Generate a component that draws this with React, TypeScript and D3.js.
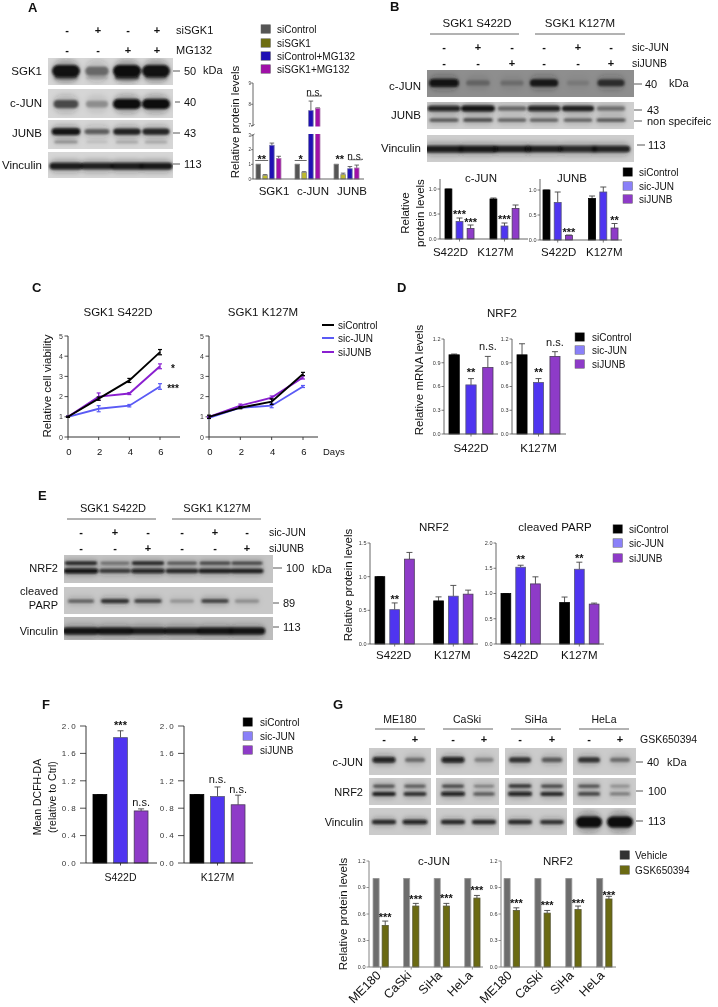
import React from 'react';
import * as d3 from 'd3';

// ---------- data ----------
const treat3 = ['siControl', 'sic-JUN', 'siJUNB'];
const treatA = ['siControl', 'siSGK1', 'siControl+MG132', 'siSGK1+MG132'];
const treatG = ['Vehicle', 'GSK650394'];
const mutants = ['S422D', 'K127M'];
const targetsA = ['SGK1', 'c-JUN', 'JUNB'];
const cells = ['ME180', 'CaSki', 'SiHa', 'HeLa'];
const days = [0, 2, 4, 6];

const aVals = [[1, 0.25, 2.3, 1.4], [1, 0.45, 7.7, 7.8], [1, 0.3, 0.7, 0.75]];
const aErrs = [[1, 0.3, 2.45, 1.55], [1, 0.5, 8.15, 7.83], [1, 0.4, 0.85, 0.95]];
const bJunVals = [[1, 0.35, 0.21], [0.8, 0.26, 0.61]];
const bJunErrs = [[1, 0.42, 0.28], [0.82, 0.32, 0.68]];
const bJunbVals = [[1, 0.75, 0.09], [0.83, 0.96, 0.24]];
const bJunbErrs = [[1, 0.96, 0.1], [0.88, 1.06, 0.33]];
const cLeft = { control: [1, 1.9, 2.8, 4.2], jun: [1, 1.4, 1.55, 2.5], junb: [1, 2.0, 2.15, 3.5] };
const cLeftErr = { control: [0.03, 0.08, 0.1, 0.13], jun: [0.03, 0.15, 0.06, 0.14], junb: [0.03, 0.18, 0.05, 0.12] };
const cRight = { control: [1, 1.45, 1.75, 3.12], jun: [0.95, 1.45, 1.55, 2.5], junb: [1, 1.55, 1.95, 2.95] };
const cRightErr = { control: [0.08, 0.05, 0.14, 0.08], jun: [0.04, 0.04, 0.1, 0.05], junb: [0.04, 0.08, 0.08, 0.08] };
const dVals = [[1, 0.62, 0.84]];
const dErrs = [[1.01, 0.7, 0.98]];
const dVals2 = [[1, 0.65, 0.98]];
const dErrs2 = [[1.14, 0.7, 1.04]];
const eNrf2Vals = [[1, 0.51, 1.26], [0.64, 0.71, 0.74]];
const eNrf2Errs = [[1, 0.61, 1.36], [0.7, 0.87, 0.8]];
const eParpVals = [[1, 1.52, 1.19], [0.82, 1.48, 0.79]];
const eParpErrs = [[1, 1.56, 1.33], [0.93, 1.62, 0.81]];
const fVals = [[1, 1.83, 0.76]];
const fErrs = [[1, 1.93, 0.79]];
const fVals2 = [[1, 0.97, 0.85]];
const fErrs2 = [[1, 1.11, 0.99]];
const gJunVals = [[1, 0.47], [1, 0.69], [1, 0.69], [1, 0.78]];
const gJunErrs = [[1, 0.52], [1, 0.72], [1, 0.72], [1, 0.81]];
const gNrfVals = [[1, 0.64], [1, 0.61], [1, 0.65], [1, 0.77]];
const gNrfErrs = [[1, 0.67], [1, 0.64], [1, 0.69], [1, 0.8]];

const tick12 = ['0.0', '0.3', '0.6', '0.9', '1.2'];
const tick10 = ['0.0', '0.5', '1.0'];
const tick15 = ['0.0', '0.5', '1.0', '1.5'];
const tick20 = ['0.0', '0.5', '1.0', '1.5', '2.0'];
const tickF = ['0.0', '0.4', '0.8', '1.2', '1.6', '2.0'];
const tickA = ['0', '1', '2', '3', '7', '8', '9'];
const tickC = ['0', '1', '2', '3', '4', '5'];

// blot band intensities, one value per lane
const blotA = {
  sgk: [0.97, 0.45, 1, 0.97], sgkLow: [0.4, 0.15, 0.55, 0.3],
  jun: [0.6, 0.28, 1, 1],
  junb: [0.95, 0.5, 0.8, 0.78], junbLow: [0.3, 0.1, 0.2, 0.2],
  vin: [0.9, 0.88, 0.9, 0.92],
};
const blotB = {
  jun: [0.95, 0.25, 0.2, 0.8, 0.12, 0.65],
  junb: [0.85, 0.95, 0.45, 0.85, 0.8, 0.4], junbLow: [0.5, 0.55, 0.45, 0.45, 0.45, 0.5],
  vin: [0.9, 0.92, 0.8, 0.8, 0.82, 0.85],
};
const blotE = {
  nrfTop: [0.75, 0.4, 0.75, 0.5, 0.6, 0.6], nrfLow: [0.95, 0.65, 0.85, 0.75, 0.8, 0.8],
  parp: [0.45, 0.7, 0.6, 0.22, 0.6, 0.25],
  vin: [0.95, 0.95, 0.9, 0.9, 0.95, 0.95],
};
const blotG = {
  jun: [0.85, 0.4, 0.85, 0.3, 0.7, 0.5, 0.7, 0.4],
  nrfTop: [0.55, 0.5, 0.6, 0.35, 0.7, 0.6, 0.55, 0.25],
  nrfLow: [0.8, 0.7, 0.85, 0.5, 0.85, 0.75, 0.6, 0.35],
  vin: [0.75, 0.85, 0.75, 0.75, 0.75, 0.7, 1, 1],
};
const signsJun = ['-', '+', '-', '-', '+', '-'];
const signsJunb = ['-', '-', '+', '-', '-', '+'];

// ---------- palette ----------
const colors3 = ['#000000', '#4f35f0', '#8e3bc8'];
const strokes3 = ['#000000', '#555577', '#4a3a5a'];
const swatch3 = ['#000000', '#8a80f8', '#8e3bc8'];
const colorsA = ['#555555', '#bdb92c', '#1f10b4', '#a010a8'];
const swatchA = ['#555555', '#6e6e10', '#1f10b4', '#a010a8'];
const colorsG = ['#6d6d6d', '#6b6a12'];
const strokesG = ['#a5a5a5', '#555533'];
const swatchG = ['#333333', '#6b6a12'];
const lineColors = ['#000000', '#5a5af5', '#8a1fd0'];
const FONT = '"Liberation Sans", Arial, sans-serif';
const INK = '#111';

// ---------- helpers ----------
function T({ x, y, s = 10, a = 'start', rot, fw, fill = INK, ls, children }: any) {
  return (
    <text x={x} y={y + s * 0.36} fontSize={s} textAnchor={a} fontWeight={fw} fill={fill}
      letterSpacing={ls} fontFamily={FONT}
      transform={rot !== undefined ? `rotate(${rot} ${x} ${y})` : undefined}>{children}</text>
  );
}

function Legend({ x, ys, names, cols, tx, boxW = 9.5, boxH = 8.5 }: any) {
  return (
    <g>
      {names.map((n: string, i: number) => (
        <g key={n}>
          <rect x={x} y={ys[i] - boxH / 2} width={boxW} height={boxH} fill={cols[i]} stroke="#666" strokeWidth={0.5} />
          <T x={tx} y={ys[i]}>{n}</T>
        </g>
      ))}
    </g>
  );
}

function Blot({ x, y, w, h, bg = '#d6d6d6', lanes, laneW, bands }: any) {
  const id = `clip-${x}-${y}`;
  return (
    <g>
      <clipPath id={id}><rect x={x} y={y} width={w} height={h} /></clipPath>
      <rect x={x} y={y} width={w} height={h} fill={bg} />
      <g clipPath={`url(#${id})`}>
        <g filter="url(#haze)">
          {bands.map((b: any, bi: number) => b.v.map((v: number, i: number) => {
            const bw = laneW * (0.8 + 0.2 * v);
            const bh = b.h * 1.9;
            return (
              <rect key={`${bi}-${i}`} x={lanes[i] - bw / 2} y={y + h * b.at - bh / 2} width={bw} height={bh}
                rx={bh / 2} fill="#222" opacity={v * 0.3} />
            );
          }))}
        </g>
        <g filter="url(#blur)">
          {bands.map((b: any, bi: number) => b.v.map((v: number, i: number) => {
            const bw = laneW * (0.72 + 0.28 * v);
            const bh = b.h * (0.55 + 0.45 * v);
            return (
              <rect key={`${bi}-${i}`} x={lanes[i] - bw / 2} y={y + h * b.at - bh / 2} width={bw} height={bh}
                rx={bh / 2} fill="#080808" opacity={v} />
            );
          }))}
        </g>
      </g>
    </g>
  );
}

function Marker({ x1, x2, y, label, lx, s = 11 }: any) {
  return (
    <g>
      <line x1={x1} x2={x2} y1={y} y2={y} stroke="#444" strokeWidth={0.9} />
      <T x={lx} y={y} s={s}>{label}</T>
    </g>
  );
}

function Signs({ xs, y, vals }: any) {
  return (
    <g>
      {vals.map((v: string, i: number) => (
        <T key={i} x={xs[i]} y={y} s={11} a="middle" fw="bold">{v}</T>
      ))}
    </g>
  );
}

function BarChart({
  axisX, xEnd, yBase, yTop, domain, ticks, range, padG, padB, groups, vals, errs, fills, strokes,
  annos = [], labelY, labelS = 11.5, labelDx = 0, rotate = false, tickS = 5.5, tickGap = 3, tickLen = 2.5,
  axisColor = '#555', tickLs, rangeY, breakAt, errW = 0.9, showXTicks = true, nsS = 11,
}: any) {
  const y = d3.scaleLinear().domain(domain).range(rangeY || [yBase, yTop]);
  const gx = d3.scaleBand().domain(groups).range(range).paddingInner(padG).paddingOuter(0);
  const n = vals[0].length;
  const inner = d3.scaleBand().domain(d3.range(n).map(String)).range([0, gx.bandwidth()]).paddingInner(padB).paddingOuter(0);
  const bw = inner.bandwidth();
  const barCentre = (gi: number, s: number) => (gx(groups[gi]) as number) + (inner('0') as number) + s * inner.step() + bw / 2;
  return (
    <g>
      {vals.map((row: number[], gi: number) => row.map((v: number, si: number) => {
        const cx = barCentre(gi, si);
        const capW = Math.min(bw * 0.5, 3);
        return (
          <g key={`${gi}-${si}`}>
            <line x1={cx} x2={cx} y1={y(v)} y2={y(errs[gi][si])} stroke="#444" strokeWidth={errW} />
            <line x1={cx - capW} x2={cx + capW} y1={y(errs[gi][si])} y2={y(errs[gi][si])} stroke="#444" strokeWidth={errW} />
            <rect x={cx - bw / 2} y={y(v)} width={bw} height={yBase - y(v)} fill={fills[si]}
              stroke={strokes ? strokes[si] : 'none'} strokeWidth={strokes ? 0.8 : 0} />
          </g>
        );
      }))}
      {breakAt && <rect x={axisX + 1} y={breakAt[0] + 1} width={xEnd - axisX - 1} height={breakAt[1] - breakAt[0] - 2} fill="#fff" />}
      {breakAt ? (
        <g stroke={axisColor} strokeWidth={0.9}>
          <line x1={axisX} x2={axisX} y1={yBase} y2={breakAt[1]} />
          <line x1={axisX} x2={axisX} y1={breakAt[0]} y2={yTop} />
          <line x1={axisX - 1.5} x2={axisX + 1.5} y1={breakAt[1] + 1} y2={breakAt[1] - 1} />
          <line x1={axisX - 1.5} x2={axisX + 1.5} y1={breakAt[0] + 1} y2={breakAt[0] - 1} />
        </g>
      ) : (
        <line x1={axisX} x2={axisX} y1={yBase} y2={yTop} stroke={axisColor} strokeWidth={0.9} />
      )}
      <line x1={axisX} x2={xEnd} y1={yBase} y2={yBase} stroke={axisColor} strokeWidth={0.9} />
      {ticks.map((t: string) => (
        <g key={t}>
          <line x1={axisX - tickLen} x2={axisX} y1={y(+t)} y2={y(+t)} stroke={axisColor} strokeWidth={0.8} />
          <T x={axisX - tickLen - tickGap + 2} y={y(+t)} s={tickS} a="end" fill="#333" ls={tickLs}>{t}</T>
        </g>
      ))}
      {groups.map((g: string, gi: number) => {
        const cx = (gx(g) as number) + gx.bandwidth() / 2;
        return (
          <g key={g}>
            {showXTicks && <line x1={cx} x2={cx} y1={yBase} y2={yBase + 2.5} stroke={axisColor} strokeWidth={0.8} />}
            {rotate ? (
              <text x={cx + labelDx} y={labelY} fontSize={12.5} textAnchor="end" fill={INK} fontFamily={FONT}
                transform={`rotate(-45 ${cx + labelDx} ${labelY})`}>{g}</text>
            ) : (
              <T x={cx + labelDx} y={labelY} s={labelS} a="middle">{g}</T>
            )}
          </g>
        );
      })}
      {annos.map((an: any, i: number) => {
        const cx = barCentre(an.g, an.s);
        const isStar = an.t.includes('*');
        const yy = y(an.v);
        return (
          <g key={i}>
            {isStar
              ? <text x={cx} y={yy + 6} fontSize={11} fontWeight="bold" textAnchor="middle" fill={INK} fontFamily={FONT}>{an.t}</text>
              : <T x={cx} y={yy} s={nsS} a="middle">{an.t}</T>}
            {an.line && <line x1={cx - an.line} x2={cx + an.line} y1={yy + 3.5} y2={yy + 3.5} stroke="#444" strokeWidth={0.8} />}
          </g>
        );
      })}
    </g>
  );
}

function LineChart({ axisX, xZero, xSix, xEnd, yBase, yTop, data, errs, labelY }: any) {
  const x = d3.scaleLinear().domain([0, 6]).range([xZero, xSix]);
  const y = d3.scaleLinear().domain([0, 5]).range([yBase, yTop]);
  const line = d3.line<number>().x((_, i) => x(days[i])).y((d) => y(d));
  const order = ['jun', 'junb', 'control'];
  const colorOf: any = { control: lineColors[0], jun: lineColors[1], junb: lineColors[2] };
  return (
    <g>
      <line x1={axisX} x2={axisX} y1={yBase} y2={yTop} stroke="#333" strokeWidth={1} />
      <line x1={axisX} x2={xEnd} y1={yBase} y2={yBase} stroke="#333" strokeWidth={1} />
      {tickC.map((t) => (
        <g key={t}>
          <line x1={axisX - 3.5} x2={axisX} y1={y(+t)} y2={y(+t)} stroke="#333" strokeWidth={0.9} />
          <T x={axisX - 5} y={y(+t)} s={7} a="end" fill="#333">{t}</T>
        </g>
      ))}
      {days.map((d) => (
        <g key={d}>
          <line x1={x(d)} x2={x(d)} y1={yBase} y2={yBase + 3} stroke="#333" strokeWidth={0.9} />
          <T x={x(d) + 1} y={labelY} s={9.5} a="middle">{String(d)}</T>
        </g>
      ))}
      {order.map((k) => (
        <g key={k}>
          <path d={line(data[k]) as string} fill="none" stroke={colorOf[k]} strokeWidth={1.9} />
          {data[k].map((v: number, i: number) => (
            <g key={i} stroke={colorOf[k]} strokeWidth={1.2}>
              <line x1={x(days[i])} x2={x(days[i])} y1={y(v - errs[k][i])} y2={y(v + errs[k][i])} />
              <line x1={x(days[i]) - 2} x2={x(days[i]) + 2} y1={y(v - errs[k][i])} y2={y(v - errs[k][i])} />
              <line x1={x(days[i]) - 2} x2={x(days[i]) + 2} y1={y(v + errs[k][i])} y2={y(v + errs[k][i])} />
            </g>
          ))}
        </g>
      ))}
    </g>
  );
}

const lanesA = [66, 97, 127, 156];
const lanesB = [444, 478, 512, 544, 578, 611];
const lanesE = [81, 115, 148, 182, 215, 247];
const lanesG = [384, 415, 453, 484, 520, 552, 589, 620];
const blotsG = [[369, 62], [436, 63], [505, 62], [573, 63]];
const gTitles = [400, 467, 536, 604];
const gLines = [[375, 425], [443, 493], [511, 561], [579, 629]];

export default function App() {
  return (
    <svg width={718} height={1007} style={{ position: 'absolute', left: 0, top: 0, background: '#fff', filter: 'blur(0.35px)' }}
      fontFamily={FONT}>
      <defs>
        <filter id="blur" x="-10%" y="-40%" width="120%" height="180%">
          <feGaussianBlur stdDeviation="1.3" />
        </filter>
        <filter id="haze" x="-10%" y="-60%" width="120%" height="220%">
          <feGaussianBlur stdDeviation="2.6" />
        </filter>
      </defs>

      {/* ---------- A ---------- */}
      <T x={28} y={7} s={13} fw="bold">A</T>
      {lanesA.map((x, i) => <T key={i} x={x + 1} y={30} s={11} a="middle" fw="bold">{['-', '+', '-', '+'][i]}</T>)}
      {lanesA.map((x, i) => <T key={i} x={x + 1} y={50} s={11} a="middle" fw="bold">{['-', '-', '+', '+'][i]}</T>)}
      <T x={176} y={30} s={11}>siSGK1</T>
      <T x={176} y={50} s={11}>MG132</T>
      <Blot x={48} y={58} w={125} h={27} lanes={lanesA} laneW={28} bands={[{ at: 0.48, h: 12, v: blotA.sgk }, { at: 0.72, h: 5, v: blotA.sgkLow }]} />
      <Blot x={48} y={89} w={125} h={29} lanes={lanesA} laneW={28} bands={[{ at: 0.52, h: 10, v: blotA.jun }]} />
      <Blot x={48} y={120} w={125} h={29} lanes={lanesA} laneW={29} bands={[{ at: 0.4, h: 7, v: blotA.junb }, { at: 0.76, h: 3.5, v: blotA.junbLow }]} />
      <Blot x={48} y={152} w={125} h={26} lanes={lanesA} laneW={34} bands={[{ at: 0.54, h: 7, v: blotA.vin }]} />
      <T x={42} y={71} s={11.5} a="end">SGK1</T>
      <T x={42} y={103} s={11.5} a="end">c-JUN</T>
      <T x={42} y={133} s={11.5} a="end">JUNB</T>
      <T x={42} y={165} s={11.5} a="end">Vinculin</T>
      <Marker x1={173} x2={180} y={71} lx={184} label="50" />
      <T x={203} y={70} s={11}>kDa</T>
      <Marker x1={175} x2={180} y={102} lx={184} label="40" />
      <Marker x1={173} x2={180} y={133} lx={184} label="43" />
      <Marker x1={173} x2={180} y={164} lx={184} label="113" />
      <Legend x={261} ys={[29, 43, 56, 69]} names={treatA} cols={swatchA} tx={277} />
      <T x={235} y={122} s={11.5} a="middle" rot={-90}>Relative protein levels</T>
      <BarChart axisX={253} xEnd={364} yBase={179} yTop={83} rangeY={[179, 135, 125.5, 83]} domain={[0, 3, 7, 9]}
        ticks={tickA} range={[256, 359]} padG={0.36} padB={0.33} groups={targetsA} vals={aVals} errs={aErrs}
        fills={colorsA} strokes={['#888', '#888', '#7777aa', '#aa77aa']} labelY={191} labelS={11.5} labelDx={5.5}
        tickS={4.5} tickGap={2} tickLen={2} breakAt={[125.5, 135]} errW={0.8} showXTicks={false} nsS={10}
        annos={[
          { g: 0, s: 0.5, v: 1.5, t: '**', line: 6.5 },
          { g: 1, s: 0.5, v: 1.5, t: '*', line: 6 },
          { g: 1, s: 2.5, v: 8.55, t: 'n.s.', line: 7.5 },
          { g: 2, s: 0.5, v: 1.5, t: '**' },
          { g: 2, s: 2.8, v: 1.55, t: 'n.s.', line: 6.5 },
        ]} />

      {/* ---------- B ---------- */}
      <T x={390} y={6} s={13} fw="bold">B</T>
      <T x={477} y={23} s={11.5} a="middle">SGK1 S422D</T>
      <T x={580} y={23} s={11.5} a="middle">SGK1 K127M</T>
      <line x1={430} x2={519} y1={34} y2={34} stroke="#555" strokeWidth={0.9} />
      <line x1={535} x2={625} y1={34} y2={34} stroke="#555" strokeWidth={0.9} />
      <Signs xs={lanesB} y={47} vals={signsJun} />
      <Signs xs={lanesB} y={63} vals={signsJunb} />
      <T x={632} y={47} s={10.5}>sic-JUN</T>
      <T x={632} y={63} s={10.5}>siJUNB</T>
      <Blot x={427} y={70} w={207} h={27} bg="#8e8e8e" lanes={lanesB} laneW={30} bands={[{ at: 0.48, h: 8, v: blotB.jun }]} />
      <Blot x={427} y={102} w={207} h={27} bg="#cfcfcf" lanes={lanesB} laneW={34} bands={[{ at: 0.24, h: 6, v: blotB.junb }, { at: 0.67, h: 5, v: blotB.junbLow }]} />
      <Blot x={427} y={135} w={207} h={27} bg="#cdcdcd" lanes={lanesB} laneW={40} bands={[{ at: 0.52, h: 7, v: blotB.vin }]} />
      <T x={421} y={86} s={11.5} a="end">c-JUN</T>
      <T x={421} y={115} s={11.5} a="end">JUNB</T>
      <T x={421} y={148} s={11.5} a="end">Vinculin</T>
      <Marker x1={634} x2={642} y={84} lx={645} label="40" />
      <T x={669} y={83} s={11}>kDa</T>
      <Marker x1={634} x2={642} y={110} lx={647} label="43" />
      <Marker x1={634} x2={642} y={121} lx={647} label="non specifeic" />
      <Marker x1={637} x2={645} y={145} lx={648} label="113" />
      <T x={405} y={213} s={11.5} a="middle" rot={-90}>Relative</T>
      <T x={420} y={213} s={11.5} a="middle" rot={-90}>protein levels</T>
      <T x={481} y={178} s={11.5} a="middle">c-JUN</T>
      <T x={572} y={178} s={11.5} a="middle">JUNB</T>
      <BarChart axisX={440} xEnd={528} yBase={239} yTop={179} domain={[0, 1.2]} ticks={tick10} range={[445, 519]}
        padG={0.355} padB={0.38} groups={mutants} vals={bJunVals} errs={bJunErrs} fills={colors3} strokes={strokes3}
        labelY={252} labelDx={-9}
        annos={[{ g: 0, s: 1, v: 0.54, t: '***' }, { g: 0, s: 2, v: 0.38, t: '***' }, { g: 1, s: 1, v: 0.44, t: '***' }]} />
      <BarChart axisX={540} xEnd={622} yBase={240} yTop={179} domain={[0, 1.22]} ticks={tick10} range={[543, 618]}
        padG={0.355} padB={0.38} groups={mutants} vals={bJunbVals} errs={bJunbErrs} fills={colors3} strokes={strokes3}
        labelY={252} labelDx={1}
        annos={[{ g: 0, s: 2, v: 0.2, t: '***' }, { g: 1, s: 2, v: 0.44, t: '**' }]} />
      <Legend x={623} ys={[172, 186, 199]} names={treat3} cols={swatch3} tx={639} />

      {/* ---------- C ---------- */}
      <T x={32} y={287} s={13} fw="bold">C</T>
      <T x={118} y={312} s={11.5} a="middle">SGK1 S422D</T>
      <T x={263} y={312} s={11.5} a="middle">SGK1 K127M</T>
      <T x={47} y={386} s={11.5} a="middle" rot={-90}>Relative cell viability</T>
      <LineChart axisX={68} xZero={68} xSix={160} xEnd={180} yBase={437} yTop={336} data={cLeft} errs={cLeftErr} labelY={452} />
      <LineChart axisX={209} xZero={209} xSix={303} xEnd={318} yBase={437} yTop={336} data={cRight} errs={cRightErr} labelY={452} />
      <T x={323} y={452} s={9.5}>Days</T>
      <text x={173} y={372} fontSize={10} fontWeight="bold" textAnchor="middle" fill={INK}>*</text>
      <text x={173} y={392} fontSize={10} fontWeight="bold" textAnchor="middle" fill={INK}>***</text>
      {treat3.map((n, i) => (
        <g key={n}>
          <line x1={322} x2={334} y1={[325, 338, 352][i]} y2={[325, 338, 352][i]} stroke={lineColors[i]} strokeWidth={2} />
          <T x={338} y={[325, 338, 352][i]}>{n}</T>
        </g>
      ))}

      {/* ---------- D ---------- */}
      <T x={397} y={287} s={13} fw="bold">D</T>
      <T x={502} y={313} s={11.5} a="middle">NRF2</T>
      <T x={419} y={380} s={11.5} a="middle" rot={-90}>Relative mRNA levels</T>
      <BarChart axisX={444} xEnd={498} yBase={434} yTop={339} domain={[0, 1.2]} ticks={tick12} range={[449, 493]}
        padG={0} padB={0.39} groups={[mutants[0]]} vals={dVals} errs={dErrs} fills={colors3} strokes={strokes3}
        labelY={448} annos={[{ g: 0, s: 1, v: 0.81, t: '**' }, { g: 0, s: 2, v: 1.11, t: 'n.s.' }]} />
      <BarChart axisX={512} xEnd={566} yBase={434} yTop={339} domain={[0, 1.2]} ticks={tick12} range={[517, 560]}
        padG={0} padB={0.39} groups={[mutants[1]]} vals={dVals2} errs={dErrs2} fills={colors3} strokes={strokes3}
        labelY={448} annos={[{ g: 0, s: 1, v: 0.81, t: '**' }, { g: 0, s: 2, v: 1.16, t: 'n.s.' }]} />
      <Legend x={575} ys={[337, 350, 364]} names={treat3} cols={swatch3} tx={592} />

      {/* ---------- E ---------- */}
      <T x={38} y={495} s={13} fw="bold">E</T>
      <T x={113} y={508} s={11} a="middle">SGK1 S422D</T>
      <T x={217} y={508} s={11} a="middle">SGK1 K127M</T>
      <line x1={67} x2={156} y1={519} y2={519} stroke="#555" strokeWidth={0.9} />
      <line x1={172} x2={261} y1={519} y2={519} stroke="#555" strokeWidth={0.9} />
      <Signs xs={lanesE} y={532} vals={signsJun} />
      <Signs xs={lanesE} y={548} vals={signsJunb} />
      <T x={269} y={532} s={10.5}>sic-JUN</T>
      <T x={269} y={548} s={10.5}>siJUNB</T>
      <Blot x={64} y={555} w={209} h={28} bg="#c4c4c4" lanes={lanesE} laneW={35} bands={[{ at: 0.29, h: 4, v: blotE.nrfTop }, { at: 0.57, h: 5, v: blotE.nrfLow }]} />
      <Blot x={64} y={587} w={209} h={27} bg="#c8c8c8" lanes={lanesE} laneW={31} bands={[{ at: 0.52, h: 5, v: blotE.parp }]} />
      <Blot x={64} y={617} w={209} h={23} bg="#bcbcbc" lanes={lanesE} laneW={37} bands={[{ at: 0.61, h: 7, v: blotE.vin }]} />
      <T x={58} y={568} s={11} a="end">NRF2</T>
      <T x={58} y={591} s={11} a="end">cleaved</T>
      <T x={58} y={605} s={11} a="end">PARP</T>
      <T x={58} y={631} s={11} a="end">Vinculin</T>
      <Marker x1={273} x2={282} y={568} lx={286} label="100" />
      <T x={312} y={569} s={11}>kDa</T>
      <Marker x1={273} x2={279} y={603} lx={283} label="89" />
      <Marker x1={273} x2={279} y={627} lx={283} label="113" />
      <T x={348} y={585} s={11.5} a="middle" rot={-90}>Relative protein levels</T>
      <T x={434} y={527} s={11.5} a="middle">NRF2</T>
      <T x={555} y={527} s={11.5} a="middle">cleaved PARP</T>
      <BarChart axisX={370} xEnd={478} yBase={644} yTop={543} domain={[0, 1.5]} ticks={tick15} range={[375, 473]}
        padG={0.33} padB={0.34} groups={mutants} vals={eNrf2Vals} errs={eNrf2Errs} fills={colors3} strokes={strokes3}
        labelY={655} labelDx={-1} annos={[{ g: 0, s: 1, v: 0.7, t: '**' }]} />
      <BarChart axisX={496} xEnd={604} yBase={644} yTop={543} domain={[0, 2]} ticks={tick20} range={[501, 599]}
        padG={0.33} padB={0.34} groups={mutants} vals={eParpVals} errs={eParpErrs} fills={colors3} strokes={strokes3}
        labelY={655} labelDx={0} annos={[{ g: 0, s: 1, v: 1.72, t: '**' }, { g: 1, s: 1, v: 1.74, t: '**' }]} />
      <Legend x={613} ys={[529, 543, 558]} names={treat3} cols={swatch3} tx={629} />

      {/* ---------- F ---------- */}
      <T x={42} y={704} s={13} fw="bold">F</T>
      <T x={37} y={797} s={10.5} a="middle" rot={-90}>Mean DCFH-DA</T>
      <T x={52} y={797} s={10.5} a="middle" rot={-90}>(relative to Ctrl)</T>
      <BarChart axisX={86} xEnd={157} yBase={863} yTop={726} domain={[0, 2]} ticks={tickF} range={[93, 148]}
        padG={0} padB={0.33} groups={[mutants[0]]} vals={fVals} errs={fErrs} fills={colors3} strokes={strokes3}
        labelY={877} labelS={10.5} tickS={8} tickLs={1.4} tickLen={6} tickGap={5} axisColor="#222"
        annos={[{ g: 0, s: 1, v: 2.04, t: '***' }, { g: 0, s: 2, v: 0.89, t: 'n.s.' }]} />
      <BarChart axisX={184} xEnd={253} yBase={863} yTop={726} domain={[0, 2]} ticks={tickF} range={[190, 245]}
        padG={0} padB={0.33} groups={[mutants[1]]} vals={fVals2} errs={fErrs2} fills={colors3} strokes={strokes3}
        labelY={877} labelS={10.5} tickS={8} tickLs={1.4} tickLen={6} tickGap={5} axisColor="#222"
        annos={[{ g: 0, s: 1, v: 1.23, t: 'n.s.' }, { g: 0, s: 2, v: 1.08, t: 'n.s.' }]} />
      <Legend x={243} ys={[722, 736, 750]} names={treat3} cols={swatch3} tx={260} />

      {/* ---------- G ---------- */}
      <T x={333} y={704} s={13} fw="bold">G</T>
      {cells.map((c, i) => (
        <g key={c}>
          <T x={gTitles[i]} y={719} s={10.5} a="middle">{c}</T>
          <line x1={gLines[i][0]} x2={gLines[i][1]} y1={729} y2={729} stroke="#555" strokeWidth={0.9} />
          <T x={lanesG[i * 2]} y={739} s={11} a="middle" fw="bold">-</T>
          <T x={lanesG[i * 2 + 1]} y={739} s={11} a="middle" fw="bold">+</T>
          <Blot x={blotsG[i][0]} y={748} w={blotsG[i][1]} h={27} bg="#cbcbcb" lanes={[lanesG[i * 2], lanesG[i * 2 + 1]]} laneW={24}
            bands={[{ at: 0.44, h: 6, v: blotG.jun.slice(i * 2, i * 2 + 2) }]} />
          <Blot x={blotsG[i][0]} y={778} w={blotsG[i][1]} h={27} bg="#cbcbcb" lanes={[lanesG[i * 2], lanesG[i * 2 + 1]]} laneW={25}
            bands={[{ at: 0.3, h: 4, v: blotG.nrfTop.slice(i * 2, i * 2 + 2) }, { at: 0.59, h: 4.5, v: blotG.nrfLow.slice(i * 2, i * 2 + 2) }]} />
          <Blot x={blotsG[i][0]} y={808} w={blotsG[i][1]} h={27} bg="#cbcbcb" lanes={[lanesG[i * 2], lanesG[i * 2 + 1]]} laneW={26}
            bands={[{ at: 0.52, h: i === 3 ? 11 : 5, v: blotG.vin.slice(i * 2, i * 2 + 2) }]} />
        </g>
      ))}
      <T x={640} y={739} s={10.5}>GSK650394</T>
      <T x={363} y={762} s={11} a="end">c-JUN</T>
      <T x={363} y={792} s={11} a="end">NRF2</T>
      <T x={363} y={822} s={11} a="end">Vinculin</T>
      <Marker x1={636} x2={643} y={762} lx={647} label="40" />
      <T x={667} y={762} s={11}>kDa</T>
      <Marker x1={636} x2={643} y={791} lx={648} label="100" />
      <Marker x1={636} x2={643} y={821} lx={648} label="113" />
      <T x={343} y={914} s={11.5} a="middle" rot={-90}>Relative protein levels</T>
      <T x={434} y={861} s={11.5} a="middle">c-JUN</T>
      <T x={558} y={861} s={11.5} a="middle">NRF2</T>
      <BarChart axisX={369} xEnd={483} yBase={967} yTop={861} domain={[0, 1.2]} ticks={tick12} range={[373, 480]}
        padG={0.5} padB={0.33} groups={cells} vals={gJunVals} errs={gJunErrs} fills={colorsG} strokes={strokesG}
        rotate labelY={976} labelDx={1} axisColor="#777"
        annos={[{ g: 0, s: 1, v: 0.59, t: '***' }, { g: 1, s: 1, v: 0.79, t: '***' }, { g: 2, s: 1, v: 0.8, t: '***' }, { g: 3, s: 1, v: 0.9, t: '***' }]} />
      <BarChart axisX={501} xEnd={616} yBase={967} yTop={861} domain={[0, 1.2]} ticks={tick12} range={[504, 612]}
        padG={0.5} padB={0.33} groups={cells} vals={gNrfVals} errs={gNrfErrs} fills={colorsG} strokes={strokesG}
        rotate labelY={976} labelDx={1} axisColor="#777"
        annos={[{ g: 0, s: 1, v: 0.75, t: '***' }, { g: 1, s: 1, v: 0.73, t: '***' }, { g: 2, s: 1, v: 0.75, t: '***' }, { g: 3, s: 1, v: 0.84, t: '***' }]} />
      <Legend x={620} ys={[855, 870]} names={treatG} cols={swatchG} tx={635} />
    </svg>
  );
}
